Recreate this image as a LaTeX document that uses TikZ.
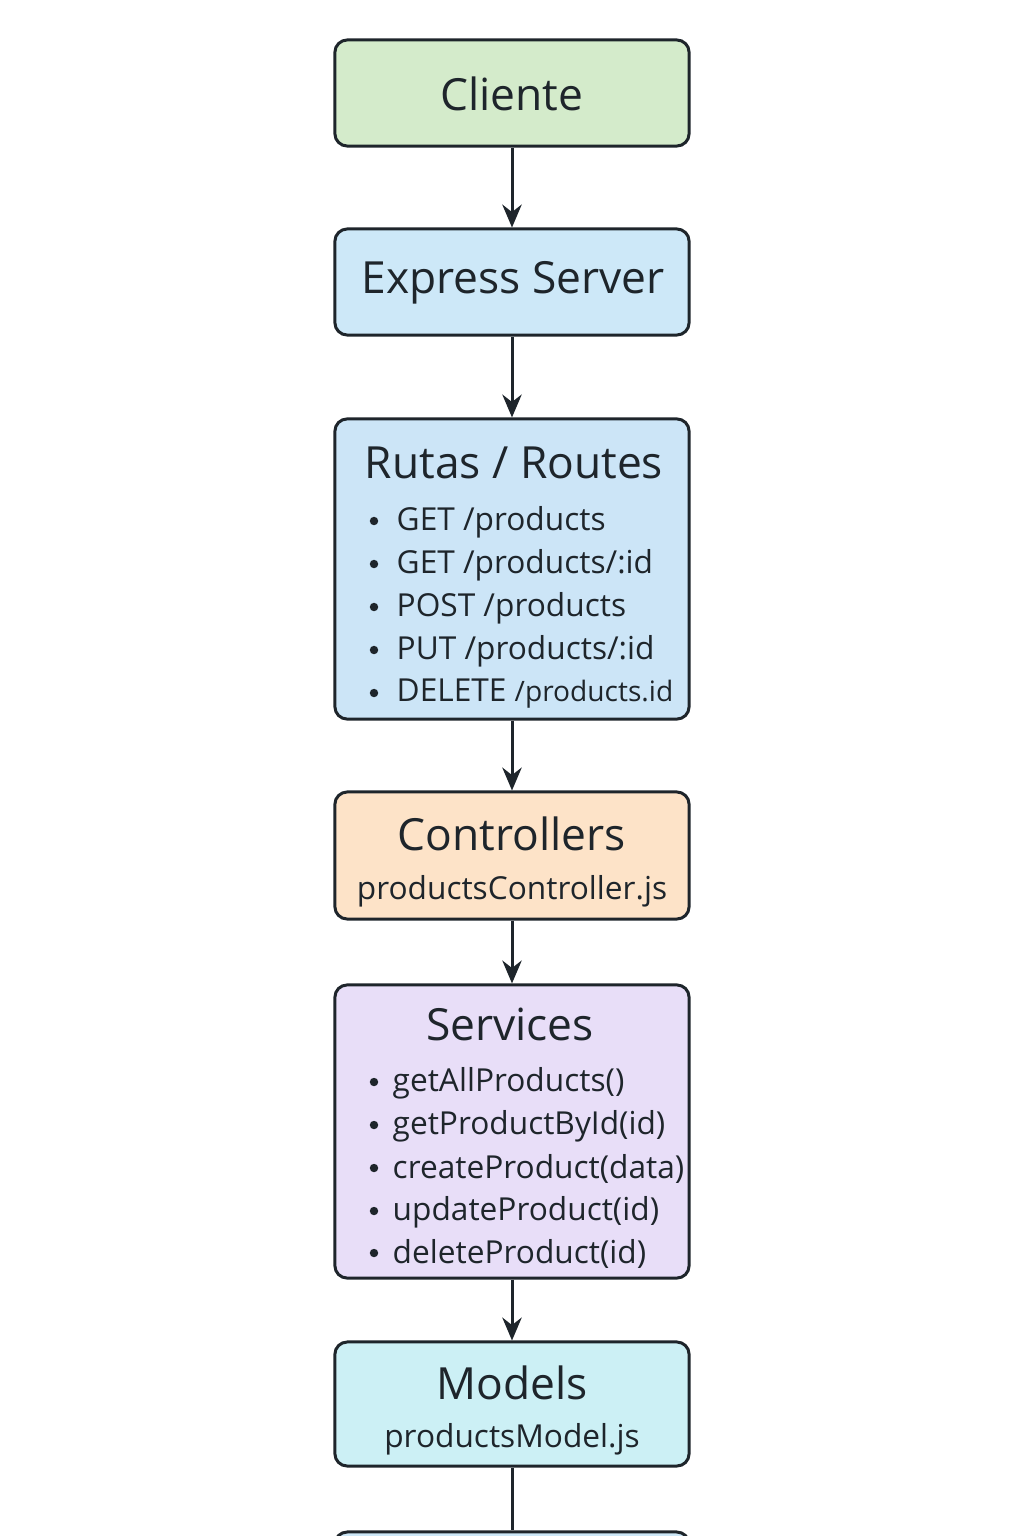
\documentclass[tikz,border=0pt]{standalone}
\usepackage{fontspec}
\setmainfont{Open Sans}
\usetikzlibrary{arrows.meta}

\definecolor{ink}{HTML}{1E252B}
\definecolor{clientgreen}{HTML}{D4EBCB}
\definecolor{serverblue}{HTML}{CDE8F8}
\definecolor{routeblue}{HTML}{CCE5F7}
\definecolor{ctrlpeach}{HTML}{FDE3C8}
\definecolor{servlilac}{HTML}{E8DEF8}
\definecolor{modelcyan}{HTML}{CCF0F5}

\begin{document}
\begin{tikzpicture}[x=0.01cm, y=-0.01cm,
  layer/.style={draw=ink, line width=0.85pt, rounded corners=3.5pt,
    minimum width=3.54cm, inner sep=0pt},
  head/.style={text=ink, font=\fontsize{12.6}{15}\selectfont},
  sub/.style={text=ink, font=\fontsize{9}{11}\selectfont},
  item/.style={text=ink, anchor=west, inner sep=0pt, font=\fontsize{9}{11}\selectfont},
  dot/.style={fill=ink, circle, inner sep=0pt, minimum size=2.4pt},
  flow/.style={draw=ink, line width=0.85pt, -{Stealth[length=6.5pt, width=5.5pt]}}]
\useasboundingbox (0,0) rectangle (1024,1536);
\clip (0,0) rectangle (1024,1536);
%\draw [help lines] (0,0) grid (1024,1536);

% boxes
\node [layer, fill=clientgreen, minimum height=1.06cm] (cliente) at (512,93) {};
\node [layer, fill=serverblue, minimum height=1.06cm] (server) at (512,282) {};
\node [layer, fill=routeblue, minimum height=3.00cm] (rutas) at (512,569) {};
\node [layer, fill=ctrlpeach, minimum height=1.27cm] (ctrl) at (512,855.5) {};
\node [layer, fill=servlilac, minimum height=2.93cm] (serv) at (512,1131.5) {};
\node [layer, fill=modelcyan, minimum height=1.24cm] (models) at (512,1404) {};
\node [layer, fill=serverblue, minimum height=1.20cm] (db) at (512,1592) {};

% titles
\node [head] at (514,463) {Rutas / Routes};
\node [head] at (512,94) {Cliente};
\node [head] at (513,283) {Express Server};
\node [head] at (512,834) {Controllers};
\node [head] at (510,1024) {Services};
\node [head] at (512,1383) {Models};

\node [sub] at (512,891) {productsController.js};
\node [sub] at (512,1439) {productsModel.js};

% routes list
\node [dot] at (374,521) {};
\node [dot] at (374,564) {};
\node [dot] at (374,607) {};
\node [dot] at (374,650) {};
\node [dot] at (374,693) {};
\node [item] at (396,522) {GET /products};
\node [item] at (396,565) {GET /products/:id};
\node [item] at (396,608) {POST /products};
\node [item] at (396,651) {PUT /products/:id};
\node [item] at (396,694) {DELETE {\fontsize{8}{10}\selectfont /products.id}};

% services list
\node [dot] at (374,1082) {};
\node [dot] at (374,1125) {};
\node [dot] at (374,1168) {};
\node [dot] at (374,1211) {};
\node [dot] at (374,1253) {};
\node [item] at (392,1083) {getAllProducts()};
\node [item] at (392,1126) {getProductById(id)};
\node [item] at (392,1169) {createProduct(data)};
\node [item] at (392,1212) {updateProduct(id)};
\node [item] at (392,1254) {deleteProduct(id)};

% arrows
\draw [flow] (cliente) -- (server);
\draw [flow] (server) -- (rutas);
\draw [flow] (rutas) -- (ctrl);
\draw [flow] (ctrl) -- (serv);
\draw [flow] (serv) -- (models);
\draw [draw=ink, line width=0.85pt] (models) -- (db);

\end{tikzpicture}
\end{document}
